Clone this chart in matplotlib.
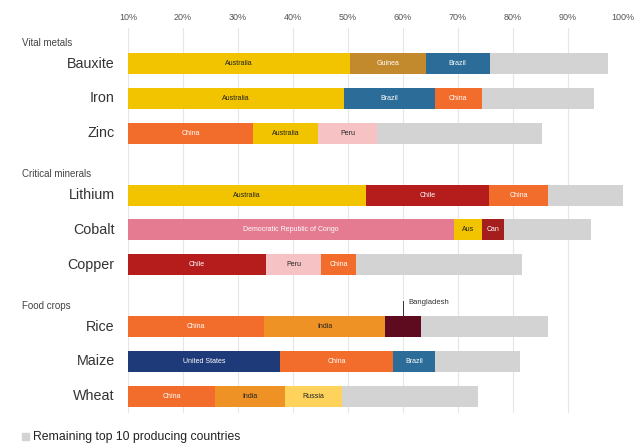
import matplotlib.pyplot as plt

plt.rcParams['font.family'] = ['Liberation Sans', 'DejaVu Sans']

# data: share of world production (%), top 3 countries + remaining top 10
groups = ["Vital metals", "Critical minerals", "Food crops"]
commodities = [["Bauxite", "Iron", "Zinc"],
               ["Lithium", "Cobalt", "Copper"],
               ["Rice", "Maize", "Wheat"]]
countries = {
    "Bauxite": ["Australia", "Guinea", "Brazil"],
    "Iron": ["Australia", "Brazil", "China"],
    "Zinc": ["China", "Australia", "Peru"],
    "Lithium": ["Australia", "Chile", "China"],
    "Cobalt": ["Democratic Republic of Congo", "Aus", "Can"],
    "Copper": ["Chile", "Peru", "China"],
    "Rice": ["China", "India", "Bangladesh"],
    "Maize": ["United States", "China", "Brazil"],
    "Wheat": ["China", "India", "Russia"],
}
shares = {
    "Bauxite": [40.3, 13.8, 11.7],
    "Iron": [39.3, 16.5, 8.5],
    "Zinc": [22.8, 11.8, 10.6],
    "Lithium": [43.3, 22.4, 10.6],
    "Cobalt": [59.2, 5.1, 4.0],
    "Copper": [25.1, 10.0, 6.3],
    "Rice": [24.7, 22.1, 6.4],
    "Maize": [27.6, 20.6, 7.7],
    "Wheat": [15.8, 12.8, 10.3],
}
remaining = {
    "Bauxite": 21.5, "Iron": 20.4, "Zinc": 30.1,
    "Lithium": 13.7, "Cobalt": 15.8, "Copper": 30.3,
    "Rice": 23.1, "Maize": 15.4, "Wheat": 24.7,
}
tick_labels = ["10%", "20%", "30%", "40%", "50%", "60%", "70%", "80%", "90%", "100%"]

colors = {
    "Australia": "#F2C400", "Aus": "#F2C400", "Guinea": "#C28A2C",
    "Brazil": "#2B6D98", "China": "#F26D2B", "Peru": "#F7C2C4",
    "Chile": "#B51C1C", "Democratic Republic of Congo": "#E57B91",
    "Can": "#A41E1E", "India": "#EF9226", "Bangladesh": "#5E0B20",
    "United States": "#1E3A78", "Russia": "#FFD25C",
}
dark_text = {"Australia", "Aus", "Peru", "India", "Russia"}
grey = "#D3D3D3"

fig = plt.figure(figsize=(6.44, 4.44), dpi=100)
ax = fig.add_axes([128 / 644, 1 - 413 / 444, 495 / 644, 385 / 444])

row_gap = 1.0
group_gap = 0.77
ypos = {}
headers = []
y = 0.0
for gi, (g, items) in enumerate(zip(groups, commodities)):
    if gi > 0:
        y += group_gap
    headers.append((g, y - 0.6))
    for name in items:
        ypos[name] = y
        y += row_gap

for name, yy in ypos.items():
    left = 0
    for c, v in zip(countries[name], shares[name]):
        ax.barh(yy, v, left=left, height=0.6, color=colors[c], zorder=2)
        if c != "Bangladesh":
            ax.text(left + v / 2, yy, c, ha="center", va="center", fontsize=5,
                    color="#222222" if c in dark_text else "white", zorder=3)
        else:
            cx = left + v / 2
            ax.plot([cx, cx], [yy - 0.3, yy - 0.72], color="#333333", lw=0.7, zorder=3)
            ax.text(cx + 1, yy - 0.68, c, ha="left", va="center", fontsize=5.5,
                    color="#333333")
        left += v
    ax.barh(yy, remaining[name], left=left, height=0.6, color=grey, zorder=2)
    ax.text(-2.4, yy, name, ha="right", va="center", fontsize=10.3, color="#333333")

for g, yy in headers:
    ax.text(-19.2, yy, g, ha="left", va="center", fontsize=7, color="#444444")

ax.set_xlim(0, 90)
ax.set_ylim(y - 1 + 0.48, -1.02)
ax.set_xticks(range(0, 100, 10))
ax.set_xticklabels(tick_labels, fontsize=6.5, color="#555555")
ax.xaxis.tick_top()
ax.tick_params(axis="x", length=0, pad=4)
ax.set_yticks([])
ax.grid(axis="x", color="#E6E6E6", lw=0.8, zorder=0)
for s in ax.spines.values():
    s.set_visible(False)

# legend
fig.patches.append(plt.Rectangle((22 / 644, 1 - 440 / 444), 7 / 644, 7 / 444,
                                 color=grey, transform=fig.transFigure))
fig.text(33 / 644, 1 - 436.5 / 444, "Remaining top 10 producing countries",
         fontsize=8.8, va="center", color="#222222")

plt.savefig("out.png", dpi=100)
